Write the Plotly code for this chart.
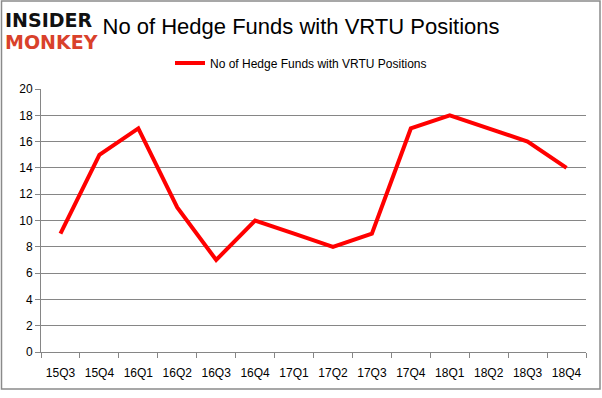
import plotly.graph_objects as go

quarters = ["15Q3", "15Q4", "16Q1", "16Q2", "16Q3", "16Q4", "17Q1", "17Q2",
            "17Q3", "17Q4", "18Q1", "18Q2", "18Q3", "18Q4"]
funds = [9, 15, 17, 11, 7, 10, 9, 8, 9, 17, 18, 17, 16, 14]
y_ticks = list(range(0, 21, 2))
series_name = "No of Hedge Funds with VRTU Positions"

W, H = 602, 398
L, R, T, B = 41, 16, 89, 46
pw, ph = W - L - R, H - T - B

def px(x):
    return (x - L) / pw

def py(y):
    return (H - B - y) / ph

fig = go.Figure()
fig.add_trace(go.Scatter(
    x=quarters, y=funds, mode="lines", name=series_name,
    line=dict(color="#ff0000", width=4),
))

fig.update_layout(
    width=W, height=H,
    margin=dict(l=L, r=R, t=T, b=B, autoexpand=False),
    paper_bgcolor="white", plot_bgcolor="white",
    font=dict(family="Liberation Sans, Arial, sans-serif", color="#000000", size=12),
    title=dict(text="No of Hedge Funds with VRTU Positions", x=0.5, xanchor="center",
               y=1 - 26 / H, yanchor="middle",
               font=dict(size=22, color="#000000", family="Liberation Sans, Arial, sans-serif")),
    showlegend=True,
    legend=dict(orientation="h", x=px(301), xanchor="center", y=py(63), yanchor="middle",
                font=dict(size=12, family="Liberation Sans, Arial, sans-serif"),
                bgcolor="rgba(0,0,0,0)"),
    xaxis=dict(type="category", showgrid=False, showline=True, linecolor="#868686",
               linewidth=1, ticks="outside", tickson="boundaries", ticklen=5,
               tickcolor="#868686", tickfont=dict(size=12), range=[-0.5, 13.5],
               ticklabelstandoff=10),
    yaxis=dict(range=[0, 20], tickvals=y_ticks, showgrid=True, gridcolor="#868686",
               gridwidth=1, showline=True, linecolor="#868686", linewidth=1,
               ticks="outside", ticklen=5, tickcolor="#868686", zeroline=False,
               tickfont=dict(size=12)),
)

# outer border
fig.add_shape(type="rect", xref="paper", yref="paper",
              x0=px(1.5), x1=px(600), y0=py(389), y1=py(1),
              line=dict(color="#8a8a8a", width=1.5), fillcolor="rgba(0,0,0,0)", layer="below")

# logo
fig.add_annotation(text="<b>INSIDER</b>", xref="paper", yref="paper", x=px(3), y=py(20),
                   xanchor="left", yanchor="middle", showarrow=False,
                   font=dict(size=19, color="#111111", family="DejaVu Sans, sans-serif"))
fig.add_annotation(text="<b>MONKEY</b>", xref="paper", yref="paper", x=px(3), y=py(42),
                   xanchor="left", yanchor="middle", showarrow=False,
                   font=dict(size=19, color="#d9412b", family="DejaVu Sans, sans-serif"))

fig.write_html("out.html", config={"displayModeBar": False},
               post_script="document.body.style.margin='0';document.body.style.padding='0';")
